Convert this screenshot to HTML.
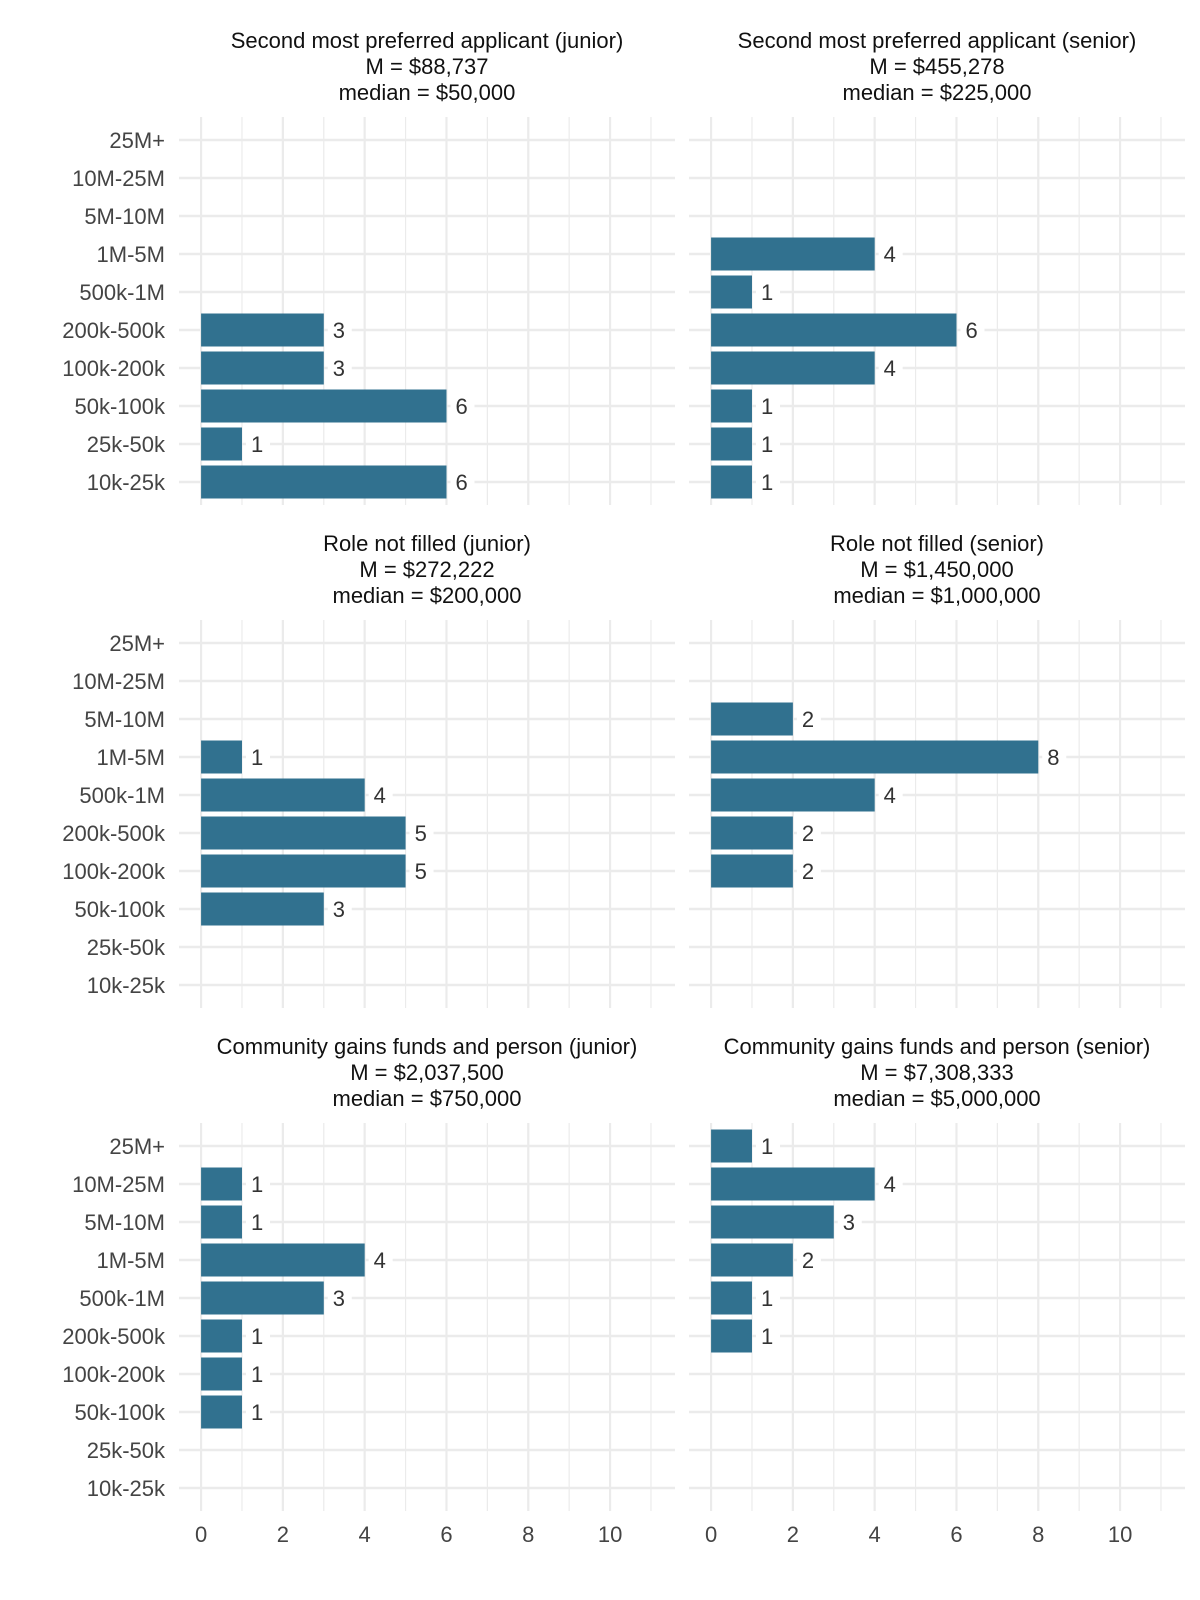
<!DOCTYPE html>
<html><head><meta charset="utf-8"><style>
body{margin:0;background:#fff;}
svg{display:block;font-family:"Liberation Sans",sans-serif;}
</style></head><body>
<svg id="chart" width="1200" height="1600" viewBox="0 0 1200 1600"></svg>
<script>
const categories = ["10k-25k","25k-50k","50k-100k","100k-200k","200k-500k","500k-1M","1M-5M","5M-10M","10M-25M","25M+"];
const titles = [
 ["Second most preferred applicant (junior)","M = $88,737","median = $50,000"],
 ["Second most preferred applicant (senior)","M = $455,278","median = $225,000"],
 ["Role not filled (junior)","M = $272,222","median = $200,000"],
 ["Role not filled (senior)","M = $1,450,000","median = $1,000,000"],
 ["Community gains funds and person (junior)","M = $2,037,500","median = $750,000"],
 ["Community gains funds and person (senior)","M = $7,308,333","median = $5,000,000"]
];
const p1 = [6,1,6,3,3,0,0,0,0,0];
const p2 = [1,1,1,4,6,1,4,0,0,0];
const p3 = [0,0,3,5,5,4,1,0,0,0];
const p4 = [0,0,0,2,2,4,8,2,0,0];
const p5 = [0,0,1,1,1,3,4,1,1,0];
const p6 = [0,0,0,0,1,1,2,3,4,1];
const seriesList = [p1,p2,p3,p4,p5,p6];
const xTicks = [0,2,4,6,8,10];

const NS="http://www.w3.org/2000/svg";
const svg=document.getElementById('chart');
function mk(tag,attrs,parent){const e=document.createElementNS(NS,tag);for(const k in attrs)e.setAttribute(k,attrs[k]);(parent||svg).appendChild(e);return e;}
const panelW=496, unit=40.9, xMin=-0.54;
const rowH=38, panelTop0=117, panelStep=503, panelH=388;
seriesList.forEach((vals,i)=>{
  const col=i%2,row=Math.floor(i/2);
  const px=col?689:179, pt=panelTop0+row*panelStep;
  const g=mk('g',{});
  
  
  const X=v=>px+(v-xMin)*unit;
  const Y=k=>pt+panelH-23-k*rowH;
  titles[i].forEach((t,j)=>{
    const tt=mk('text',{x:px+panelW/2,y:pt-69+j*26,'text-anchor':'middle','font-size':22,fill:'#111'},g);
    tt.textContent=t;
    
    
  });
  for(let v=0;v<=11;v++){
    const l=mk('line',{x1:X(v),x2:X(v),y1:pt,y2:pt+panelH,stroke:'#ebebeb','stroke-width':v%2?1.2:2.2},g);
    
    
  }
  categories.forEach((c,k)=>{
    const l=mk('line',{x1:px,x2:px+panelW,y1:Y(k),y2:Y(k),stroke:'#ebebeb','stroke-width':2.5},g);
    
    
    if(col===0){
      const t=mk('text',{x:165,y:Y(k)+8,'text-anchor':'end','font-size':22,fill:'#444'},g);
      t.textContent=c;
      
      
    }
  });
  vals.forEach((v,k)=>{
    if(!v)return;
    const r=mk('rect',{x:X(0),y:Y(k)-16.5,width:X(v)-X(0),height:33,fill:'#31718f'},g);
    
    
    const bg=mk('rect',{x:X(v)+4,y:Y(k)-12,width:24,height:24,fill:'#fff'},g);
    
    
    const t=mk('text',{x:X(v)+9,y:Y(k)+8,'font-size':22,fill:'#333'},g);
    t.textContent=v;
    
    
  });
  if(row===2){
    xTicks.forEach(v=>{
      const t=mk('text',{x:X(v),y:1542,'text-anchor':'middle','font-size':22,fill:'#444'},g);
      t.textContent=v;
      
      
    });
  }
});
</script>
</body></html>
